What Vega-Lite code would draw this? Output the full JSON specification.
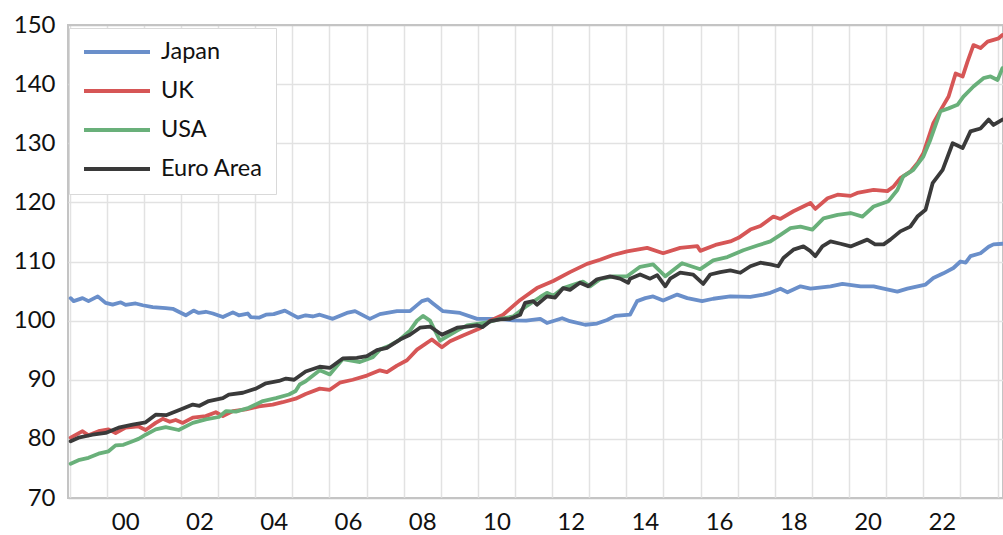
{
"$schema": "https://vega.github.io/schema/vega-lite/v6.json",
"width": 935, "height": 473,
"autosize": {"type": "none"},
"padding": {"left": 68, "top": 25, "right": 0, "bottom": 37},
"background": "white",
"config": {"view": {"stroke": "#c4c4c4", "strokeWidth": 2}, "font": "Lato"},
"data": {"values": [
{"s":"Japan","t":1999.03,"v":103.8},{"s":"Japan","t":1999.11,"v":103.3},{"s":"Japan","t":1999.35,"v":103.8},{"s":"Japan","t":1999.51,"v":103.3},{"s":"Japan","t":1999.76,"v":104.1},{"s":"Japan","t":1999.97,"v":103.0},{"s":"Japan","t":2000.16,"v":102.7},{"s":"Japan","t":2000.38,"v":103.1},{"s":"Japan","t":2000.51,"v":102.65},{"s":"Japan","t":2000.78,"v":102.9},{"s":"Japan","t":2000.97,"v":102.6},{"s":"Japan","t":2001.24,"v":102.3},{"s":"Japan","t":2001.59,"v":102.1},{"s":"Japan","t":2001.78,"v":102.0},{"s":"Japan","t":2001.94,"v":101.5},{"s":"Japan","t":2002.13,"v":100.9},{"s":"Japan","t":2002.34,"v":101.7},{"s":"Japan","t":2002.48,"v":101.3},{"s":"Japan","t":2002.67,"v":101.5},{"s":"Japan","t":2002.86,"v":101.2},{"s":"Japan","t":2003.13,"v":100.6},{"s":"Japan","t":2003.40,"v":101.4},{"s":"Japan","t":2003.56,"v":100.9},{"s":"Japan","t":2003.80,"v":101.2},{"s":"Japan","t":2003.88,"v":100.6},{"s":"Japan","t":2004.10,"v":100.5},{"s":"Japan","t":2004.29,"v":101.0},{"s":"Japan","t":2004.50,"v":101.1},{"s":"Japan","t":2004.80,"v":101.7},{"s":"Japan","t":2005.15,"v":100.5},{"s":"Japan","t":2005.36,"v":100.9},{"s":"Japan","t":2005.55,"v":100.7},{"s":"Japan","t":2005.74,"v":101.0},{"s":"Japan","t":2006.09,"v":100.3},{"s":"Japan","t":2006.47,"v":101.3},{"s":"Japan","t":2006.69,"v":101.6},{"s":"Japan","t":2007.09,"v":100.3},{"s":"Japan","t":2007.36,"v":101.1},{"s":"Japan","t":2007.82,"v":101.6},{"s":"Japan","t":2008.17,"v":101.6},{"s":"Japan","t":2008.49,"v":103.3},{"s":"Japan","t":2008.65,"v":103.6},{"s":"Japan","t":2008.79,"v":102.9},{"s":"Japan","t":2009.06,"v":101.6},{"s":"Japan","t":2009.52,"v":101.3},{"s":"Japan","t":2009.98,"v":100.3},{"s":"Japan","t":2010.60,"v":100.3},{"s":"Japan","t":2010.95,"v":100.05},{"s":"Japan","t":2011.30,"v":100.0},{"s":"Japan","t":2011.68,"v":100.3},{"s":"Japan","t":2011.86,"v":99.6},{"s":"Japan","t":2012.27,"v":100.4},{"s":"Japan","t":2012.48,"v":99.9},{"s":"Japan","t":2012.89,"v":99.3},{"s":"Japan","t":2013.21,"v":99.5},{"s":"Japan","t":2013.48,"v":100.1},{"s":"Japan","t":2013.70,"v":100.8},{"s":"Japan","t":2014.10,"v":101.0},{"s":"Japan","t":2014.29,"v":103.3},{"s":"Japan","t":2014.51,"v":103.8},{"s":"Japan","t":2014.72,"v":104.1},{"s":"Japan","t":2014.99,"v":103.4},{"s":"Japan","t":2015.37,"v":104.4},{"s":"Japan","t":2015.64,"v":103.8},{"s":"Japan","t":2016.04,"v":103.3},{"s":"Japan","t":2016.34,"v":103.7},{"s":"Japan","t":2016.80,"v":104.1},{"s":"Japan","t":2017.34,"v":104.0},{"s":"Japan","t":2017.69,"v":104.4},{"s":"Japan","t":2017.88,"v":104.7},{"s":"Japan","t":2018.15,"v":105.4},{"s":"Japan","t":2018.34,"v":104.8},{"s":"Japan","t":2018.69,"v":105.8},{"s":"Japan","t":2018.96,"v":105.4},{"s":"Japan","t":2019.50,"v":105.8},{"s":"Japan","t":2019.82,"v":106.2},{"s":"Japan","t":2020.31,"v":105.8},{"s":"Japan","t":2020.66,"v":105.8},{"s":"Japan","t":2020.93,"v":105.4},{"s":"Japan","t":2021.30,"v":104.9},{"s":"Japan","t":2021.57,"v":105.4},{"s":"Japan","t":2022.06,"v":106.1},{"s":"Japan","t":2022.27,"v":107.2},{"s":"Japan","t":2022.54,"v":108.0},{"s":"Japan","t":2022.81,"v":108.9},{"s":"Japan","t":2023.00,"v":110.0},{"s":"Japan","t":2023.14,"v":109.8},{"s":"Japan","t":2023.27,"v":110.9},{"s":"Japan","t":2023.54,"v":111.4},{"s":"Japan","t":2023.76,"v":112.5},{"s":"Japan","t":2023.89,"v":112.9},{"s":"Japan","t":2024.13,"v":113.0},
{"s":"UK","t":1999.03,"v":80.2},{"s":"UK","t":1999.35,"v":81.3},{"s":"UK","t":1999.51,"v":80.6},{"s":"UK","t":1999.78,"v":81.3},{"s":"UK","t":2000.05,"v":81.6},{"s":"UK","t":2000.24,"v":81.0},{"s":"UK","t":2000.51,"v":81.9},{"s":"UK","t":2000.86,"v":82.1},{"s":"UK","t":2001.05,"v":81.5},{"s":"UK","t":2001.32,"v":82.7},{"s":"UK","t":2001.51,"v":83.4},{"s":"UK","t":2001.70,"v":82.9},{"s":"UK","t":2001.86,"v":83.2},{"s":"UK","t":2002.05,"v":82.7},{"s":"UK","t":2002.32,"v":83.6},{"s":"UK","t":2002.67,"v":83.85},{"s":"UK","t":2002.94,"v":84.5},{"s":"UK","t":2003.13,"v":83.85},{"s":"UK","t":2003.40,"v":84.7},{"s":"UK","t":2003.75,"v":85.0},{"s":"UK","t":2004.10,"v":85.5},{"s":"UK","t":2004.47,"v":85.8},{"s":"UK","t":2004.74,"v":86.2},{"s":"UK","t":2005.09,"v":86.8},{"s":"UK","t":2005.36,"v":87.6},{"s":"UK","t":2005.74,"v":88.5},{"s":"UK","t":2006.01,"v":88.3},{"s":"UK","t":2006.28,"v":89.5},{"s":"UK","t":2006.63,"v":90.0},{"s":"UK","t":2007.01,"v":90.7},{"s":"UK","t":2007.36,"v":91.6},{"s":"UK","t":2007.55,"v":91.3},{"s":"UK","t":2007.82,"v":92.4},{"s":"UK","t":2008.09,"v":93.3},{"s":"UK","t":2008.36,"v":95.1},{"s":"UK","t":2008.76,"v":96.8},{"s":"UK","t":2009.03,"v":95.5},{"s":"UK","t":2009.25,"v":96.5},{"s":"UK","t":2009.60,"v":97.5},{"s":"UK","t":2010.06,"v":98.7},{"s":"UK","t":2010.33,"v":100.0},{"s":"UK","t":2010.68,"v":101.0},{"s":"UK","t":2011.14,"v":103.5},{"s":"UK","t":2011.59,"v":105.5},{"s":"UK","t":2012.03,"v":106.7},{"s":"UK","t":2012.48,"v":108.2},{"s":"UK","t":2012.94,"v":109.6},{"s":"UK","t":2013.29,"v":110.3},{"s":"UK","t":2013.64,"v":111.1},{"s":"UK","t":2014.02,"v":111.7},{"s":"UK","t":2014.56,"v":112.3},{"s":"UK","t":2014.99,"v":111.4},{"s":"UK","t":2015.45,"v":112.3},{"s":"UK","t":2015.91,"v":112.6},{"s":"UK","t":2015.99,"v":111.8},{"s":"UK","t":2016.40,"v":112.8},{"s":"UK","t":2016.80,"v":113.4},{"s":"UK","t":2017.02,"v":114.0},{"s":"UK","t":2017.34,"v":115.4},{"s":"UK","t":2017.61,"v":116.0},{"s":"UK","t":2017.96,"v":117.6},{"s":"UK","t":2018.15,"v":117.2},{"s":"UK","t":2018.50,"v":118.5},{"s":"UK","t":2018.96,"v":119.9},{"s":"UK","t":2019.09,"v":118.9},{"s":"UK","t":2019.42,"v":120.7},{"s":"UK","t":2019.69,"v":121.3},{"s":"UK","t":2020.04,"v":121.1},{"s":"UK","t":2020.22,"v":121.6},{"s":"UK","t":2020.66,"v":122.1},{"s":"UK","t":2021.03,"v":121.9},{"s":"UK","t":2021.20,"v":122.7},{"s":"UK","t":2021.38,"v":124.1},{"s":"UK","t":2021.65,"v":125.2},{"s":"UK","t":2021.84,"v":126.6},{"s":"UK","t":2022.00,"v":128.3},{"s":"UK","t":2022.27,"v":133.4},{"s":"UK","t":2022.52,"v":136.2},{"s":"UK","t":2022.68,"v":137.9},{"s":"UK","t":2022.87,"v":141.8},{"s":"UK","t":2023.06,"v":141.3},{"s":"UK","t":2023.19,"v":143.8},{"s":"UK","t":2023.35,"v":146.6},{"s":"UK","t":2023.54,"v":146.1},{"s":"UK","t":2023.73,"v":147.2},{"s":"UK","t":2024.03,"v":147.75},{"s":"UK","t":2024.13,"v":148.3},
{"s":"USA","t":1999.03,"v":75.8},{"s":"USA","t":1999.24,"v":76.4},{"s":"USA","t":1999.51,"v":76.8},{"s":"USA","t":1999.78,"v":77.5},{"s":"USA","t":2000.05,"v":77.9},{"s":"USA","t":2000.24,"v":78.9},{"s":"USA","t":2000.45,"v":79.0},{"s":"USA","t":2000.70,"v":79.6},{"s":"USA","t":2000.86,"v":80.0},{"s":"USA","t":2001.05,"v":80.7},{"s":"USA","t":2001.32,"v":81.6},{"s":"USA","t":2001.59,"v":82.0},{"s":"USA","t":2001.94,"v":81.5},{"s":"USA","t":2002.32,"v":82.7},{"s":"USA","t":2002.67,"v":83.3},{"s":"USA","t":2003.02,"v":83.7},{"s":"USA","t":2003.21,"v":84.7},{"s":"USA","t":2003.48,"v":84.6},{"s":"USA","t":2003.83,"v":85.25},{"s":"USA","t":2004.21,"v":86.4},{"s":"USA","t":2004.56,"v":86.9},{"s":"USA","t":2004.91,"v":87.5},{"s":"USA","t":2005.09,"v":88.1},{"s":"USA","t":2005.20,"v":89.2},{"s":"USA","t":2005.36,"v":89.75},{"s":"USA","t":2005.74,"v":91.6},{"s":"USA","t":2006.01,"v":90.9},{"s":"USA","t":2006.36,"v":93.5},{"s":"USA","t":2006.82,"v":93.0},{"s":"USA","t":2007.17,"v":93.8},{"s":"USA","t":2007.36,"v":95.1},{"s":"USA","t":2007.63,"v":95.8},{"s":"USA","t":2007.90,"v":96.8},{"s":"USA","t":2008.17,"v":98.3},{"s":"USA","t":2008.36,"v":100.0},{"s":"USA","t":2008.52,"v":100.8},{"s":"USA","t":2008.71,"v":100.0},{"s":"USA","t":2008.98,"v":96.6},{"s":"USA","t":2009.44,"v":98.3},{"s":"USA","t":2009.71,"v":99.2},{"s":"USA","t":2010.25,"v":99.7},{"s":"USA","t":2010.60,"v":100.3},{"s":"USA","t":2010.95,"v":100.7},{"s":"USA","t":2011.32,"v":102.5},{"s":"USA","t":2011.68,"v":104.0},{"s":"USA","t":2011.86,"v":104.7},{"s":"USA","t":2012.03,"v":104.2},{"s":"USA","t":2012.30,"v":105.5},{"s":"USA","t":2012.83,"v":106.6},{"s":"USA","t":2013.02,"v":105.8},{"s":"USA","t":2013.29,"v":107.0},{"s":"USA","t":2013.64,"v":107.5},{"s":"USA","t":2014.02,"v":107.5},{"s":"USA","t":2014.37,"v":109.1},{"s":"USA","t":2014.72,"v":109.5},{"s":"USA","t":2015.05,"v":107.5},{"s":"USA","t":2015.50,"v":109.7},{"s":"USA","t":2015.99,"v":108.7},{"s":"USA","t":2016.34,"v":110.2},{"s":"USA","t":2016.72,"v":110.75},{"s":"USA","t":2017.15,"v":111.9},{"s":"USA","t":2017.53,"v":112.7},{"s":"USA","t":2017.88,"v":113.4},{"s":"USA","t":2018.15,"v":114.5},{"s":"USA","t":2018.42,"v":115.65},{"s":"USA","t":2018.69,"v":115.9},{"s":"USA","t":2019.01,"v":115.4},{"s":"USA","t":2019.31,"v":117.3},{"s":"USA","t":2019.69,"v":117.9},{"s":"USA","t":2020.04,"v":118.2},{"s":"USA","t":2020.36,"v":117.6},{"s":"USA","t":2020.66,"v":119.3},{"s":"USA","t":2021.06,"v":120.2},{"s":"USA","t":2021.30,"v":122.1},{"s":"USA","t":2021.46,"v":124.4},{"s":"USA","t":2021.73,"v":125.5},{"s":"USA","t":2022.00,"v":127.75},{"s":"USA","t":2022.19,"v":130.6},{"s":"USA","t":2022.46,"v":135.4},{"s":"USA","t":2022.68,"v":135.9},{"s":"USA","t":2022.92,"v":136.5},{"s":"USA","t":2023.08,"v":137.9},{"s":"USA","t":2023.35,"v":139.6},{"s":"USA","t":2023.62,"v":141.0},{"s":"USA","t":2023.81,"v":141.3},{"s":"USA","t":2024.00,"v":140.7},{"s":"USA","t":2024.13,"v":142.7},
{"s":"Euro Area","t":1999.03,"v":79.6},{"s":"Euro Area","t":1999.24,"v":80.2},{"s":"Euro Area","t":1999.62,"v":80.7},{"s":"Euro Area","t":1999.97,"v":81.0},{"s":"Euro Area","t":2000.32,"v":81.9},{"s":"Euro Area","t":2000.70,"v":82.4},{"s":"Euro Area","t":2001.05,"v":82.8},{"s":"Euro Area","t":2001.32,"v":84.1},{"s":"Euro Area","t":2001.60,"v":84.0},{"s":"Euro Area","t":2001.94,"v":84.85},{"s":"Euro Area","t":2002.32,"v":85.8},{"s":"Euro Area","t":2002.50,"v":85.6},{"s":"Euro Area","t":2002.75,"v":86.4},{"s":"Euro Area","t":2003.13,"v":86.9},{"s":"Euro Area","t":2003.29,"v":87.5},{"s":"Euro Area","t":2003.67,"v":87.8},{"s":"Euro Area","t":2004.02,"v":88.5},{"s":"Euro Area","t":2004.29,"v":89.4},{"s":"Euro Area","t":2004.64,"v":89.8},{"s":"Euro Area","t":2004.83,"v":90.2},{"s":"Euro Area","t":2005.05,"v":90.0},{"s":"Euro Area","t":2005.36,"v":91.4},{"s":"Euro Area","t":2005.74,"v":92.2},{"s":"Euro Area","t":2006.01,"v":92.0},{"s":"Euro Area","t":2006.36,"v":93.6},{"s":"Euro Area","t":2006.74,"v":93.7},{"s":"Euro Area","t":2007.01,"v":94.0},{"s":"Euro Area","t":2007.28,"v":95.0},{"s":"Euro Area","t":2007.55,"v":95.4},{"s":"Euro Area","t":2007.90,"v":96.8},{"s":"Euro Area","t":2008.17,"v":97.6},{"s":"Euro Area","t":2008.44,"v":98.8},{"s":"Euro Area","t":2008.71,"v":99.0},{"s":"Euro Area","t":2009.03,"v":97.6},{"s":"Euro Area","t":2009.44,"v":98.8},{"s":"Euro Area","t":2009.71,"v":99.0},{"s":"Euro Area","t":2009.98,"v":99.2},{"s":"Euro Area","t":2010.12,"v":98.9},{"s":"Euro Area","t":2010.33,"v":99.9},{"s":"Euro Area","t":2010.60,"v":100.2},{"s":"Euro Area","t":2010.87,"v":100.3},{"s":"Euro Area","t":2011.14,"v":101.0},{"s":"Euro Area","t":2011.27,"v":103.0},{"s":"Euro Area","t":2011.49,"v":103.3},{"s":"Euro Area","t":2011.59,"v":102.7},{"s":"Euro Area","t":2011.86,"v":104.1},{"s":"Euro Area","t":2012.08,"v":103.9},{"s":"Euro Area","t":2012.30,"v":105.5},{"s":"Euro Area","t":2012.48,"v":105.2},{"s":"Euro Area","t":2012.75,"v":106.4},{"s":"Euro Area","t":2012.97,"v":105.8},{"s":"Euro Area","t":2013.21,"v":107.0},{"s":"Euro Area","t":2013.56,"v":107.5},{"s":"Euro Area","t":2013.83,"v":107.1},{"s":"Euro Area","t":2014.05,"v":106.4},{"s":"Euro Area","t":2014.10,"v":107.1},{"s":"Euro Area","t":2014.37,"v":107.8},{"s":"Euro Area","t":2014.64,"v":107.1},{"s":"Euro Area","t":2014.83,"v":107.7},{"s":"Euro Area","t":2015.05,"v":105.8},{"s":"Euro Area","t":2015.18,"v":107.1},{"s":"Euro Area","t":2015.45,"v":108.1},{"s":"Euro Area","t":2015.80,"v":107.8},{"s":"Euro Area","t":2016.07,"v":106.2},{"s":"Euro Area","t":2016.26,"v":107.8},{"s":"Euro Area","t":2016.53,"v":108.2},{"s":"Euro Area","t":2016.80,"v":108.5},{"s":"Euro Area","t":2017.07,"v":108.1},{"s":"Euro Area","t":2017.34,"v":109.2},{"s":"Euro Area","t":2017.61,"v":109.8},{"s":"Euro Area","t":2017.88,"v":109.5},{"s":"Euro Area","t":2018.09,"v":109.2},{"s":"Euro Area","t":2018.23,"v":110.6},{"s":"Euro Area","t":2018.50,"v":112.0},{"s":"Euro Area","t":2018.77,"v":112.55},{"s":"Euro Area","t":2018.95,"v":111.8},{"s":"Euro Area","t":2019.09,"v":110.9},{"s":"Euro Area","t":2019.28,"v":112.55},{"s":"Euro Area","t":2019.50,"v":113.4},{"s":"Euro Area","t":2019.77,"v":113.0},{"s":"Euro Area","t":2020.04,"v":112.55},{"s":"Euro Area","t":2020.49,"v":113.7},{"s":"Euro Area","t":2020.70,"v":112.9},{"s":"Euro Area","t":2020.93,"v":112.9},{"s":"Euro Area","t":2021.11,"v":113.7},{"s":"Euro Area","t":2021.38,"v":115.1},{"s":"Euro Area","t":2021.65,"v":115.9},{"s":"Euro Area","t":2021.84,"v":117.6},{"s":"Euro Area","t":2022.06,"v":118.75},{"s":"Euro Area","t":2022.25,"v":123.25},{"s":"Euro Area","t":2022.52,"v":125.5},{"s":"Euro Area","t":2022.79,"v":130.0},{"s":"Euro Area","t":2023.06,"v":129.2},{"s":"Euro Area","t":2023.27,"v":132.0},{"s":"Euro Area","t":2023.54,"v":132.5},{"s":"Euro Area","t":2023.76,"v":134.0},{"s":"Euro Area","t":2023.89,"v":133.1},{"s":"Euro Area","t":2024.13,"v":134.0}
]},
"mark": {"type": "line", "strokeWidth": 3.8, "strokeCap": "round", "strokeJoin": "round", "clip": true},
"encoding": {
  "x": {"field": "t", "type": "quantitative",
    "scale": {"domain": [1998.958, 2024.146], "nice": false, "zero": false},
    "axis": {"title": null, "values": [1999,2000,2001,2002,2003,2004,2005,2006,2007,2008,2009,2010,2011,2012,2013,2014,2015,2016,2017,2018,2019,2020,2021,2022,2023,2024],
      "format": "d", "labelExpr": "datum.value % 2 == 0 && datum.value < 2024 ? substring(datum.label, 2) : ''",
      "labelOffset": 18.5, "labelFontSize": 24, "labelColor": "#111111", "labelPadding": 12,
      "ticks": false, "domain": false, "grid": true, "gridColor": "#e2e2e2", "gridWidth": 1.5,
      "labelOverlap": false, "labelFlush": false, "labelBound": false}},
  "y": {"field": "v", "type": "quantitative",
    "scale": {"domain": [70, 150], "nice": false, "zero": false},
    "axis": {"title": null, "values": [70,80,90,100,110,120,130,140,150],
      "labelFontSize": 24, "labelPadding": 13, "labelColor": "#111111",
      "ticks": false, "domain": false, "grid": true,
      "gridColor": {"condition": {"test": "datum.value == 150 || datum.value == 70", "value": "#c4c4c4"}, "value": "#e2e2e2"},
      "gridWidth": 1.5}},
  "color": {"field": "s", "type": "nominal",
    "scale": {"domain": ["Japan", "UK", "USA", "Euro Area"], "range": ["#6a8fca", "#d65656", "#69b07a", "#3a3a3a"]},
    "legend": {"title": null, "orient": "none", "legendX": 1, "legendY": 3,
      "symbolType": "stroke", "symbolSize": 4356, "symbolStrokeWidth": 4, "clipHeight": 22, "rowPadding": 15,
      "labelFontSize": 23.5, "labelOffset": 9, "labelColor": "#111111", "padding": 13,
      "strokeColor": "#d9d9d9", "fillColor": "white"}}
}
}
